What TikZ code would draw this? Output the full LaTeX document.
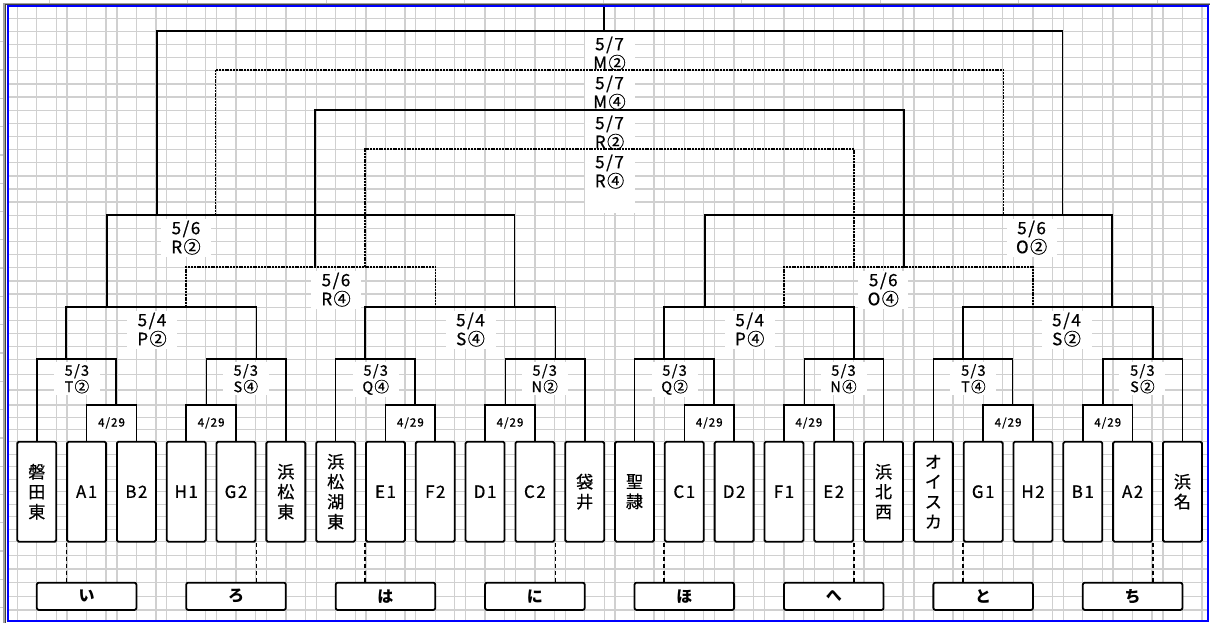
\documentclass[tikz,border=0pt]{standalone}
\usepackage{fontspec}
\setmainfont{Noto Sans CJK JP}
\newfontfamily\spacedfont[LetterSpace=9,FakeBold=0.7]{Noto Sans CJK JP}
\usetikzlibrary{positioning}

\begin{document}
\begin{tikzpicture}[x=1pt,y=-1pt,
	wire/.style={line width=1.6pt,line cap=rect},
	subwire/.style={line width=1.5pt,dash pattern=on 2pt off 0.8pt},
	linkwire/.style={line width=1.4pt,dash pattern=on 4pt off 3pt},
	gridline/.style={line width=1.3pt,color=cellgray},
	teambox/.style={draw,line width=1.8pt,rounded corners=1.5pt,fill=white,minimum width=39pt,minimum height=100pt,inner sep=0pt,align=center,font=\spacedfont\fontsize{17}{20}\selectfont},
	zonebox/.style={draw,line width=1.8pt,rounded corners=2pt,fill=white,minimum width=99.6pt,minimum height=27.3pt,inner sep=0pt,font=\bfseries\fontsize{16}{16}\selectfont},
	firstbox/.style={fill=white,minimum width=49.8pt,minimum height=36pt,inner sep=0pt,font=\spacedfont\fontsize{11.5}{11.5}\selectfont},
	daylabel/.style={fill=white,minimum width=50pt,inner xsep=0pt,inner ysep=2pt,align=center,font=\spacedfont\fontsize{17}{19}\selectfont},
	smalllabel/.style={fill=white,minimum width=46pt,inner xsep=0pt,inner ysep=2pt,align=center,font=\spacedfont\fontsize{14.5}{16.4}\selectfont}]

\definecolor{cellgray}{RGB}{208,208,208}
\definecolor{framegray}{RGB}{160,160,160}

\useasboundingbox (0,0) rectangle (1210,623);

\foreach \i in {0,...,23}{
	\foreach \dx in {0,19.5,39}{
		\draw[gridline] ({17.3+49.81*\i+\dx},7) -- ({17.3+49.81*\i+\dx},620);
	}
}
\foreach \k in {0,...,26}{
	\draw[gridline] (8,{18.3+13.13*\k}) -- (1208,{18.3+13.13*\k});
}
\foreach \y in {374.8,389.9,405,417.2,429.5,441.7,454.2,466.7,479.2,491.7,504.2,516.7,529.2,541.7,555.4,569,582.7,596.4,610}{
	\draw[gridline] (8,\y) -- (1208,\y);
}
\foreach \k in {0,...,8}{
	\draw[gridline] ({49.3+138.5*\k},0) -- ({49.3+138.5*\k},3);
}
\foreach \k in {0,...,20}{
	\draw[gridline] (0,{41.7+28.3*\k}) -- (4,{41.7+28.3*\k});
}

\foreach \k/\a in {1/1,2/3,3/7,4/9,5/13,6/15,7/19,8/21}{
	\node[firstbox] (m\k) at ({61.7+49.81*\a},423) {4/29};
}
\foreach \n/\name in {0/{磐\\田\\東},1/A1,2/B2,3/H1,4/G2,5/{浜\\松\\東},6/{浜\\松\\湖\\東},7/E1,8/F2,9/D1,10/C2,11/{袋\\井},12/{聖\\隷},13/C1,14/D2,15/F1,16/E2,17/{浜\\北\\西},18/{オ\\イ\\ス\\カ},19/G1,20/H2,21/B1,22/A2,23/{浜\\名}}{
	\node[teambox] (t\n) at ({36.8+49.81*\n},491.7) {\name};
}
\foreach \g/\kana in {0/い,1/ろ,2/は,3/に,4/ほ,5/へ,6/と,7/ち}{
	\node[zonebox] (z\g) at ({86.6+149.43*\g},596.3) {\kana};
}

\foreach \k/\x in {1/76.9,2/245.8,3/375.7,4/544.7,5/674.6,6/843.5,7/973.4,8/1142.4}{
	\coordinate (b\k) at (\x,359);
}
\foreach \k/\x in {1/152,2/470.5,3/749.7,4/1066.5}{
	\coordinate (c\k) at (\x,307);
}
\coordinate (d1) at (186,215);
\coordinate (d2) at (1031.6,215);
\coordinate (e1) at (336,267);
\coordinate (e2) at (883.3,267);
\foreach \k/\y in {1/31,2/70,3/110,4/149}{
	\coordinate (f\k) at (609.5,\y);
}
\coordinate (root) at (604.2,7);

\foreach \k/\txt in {1/T②,2/S④,3/Q④,4/N②,5/Q②,6/N④,7/T④,8/S②}{
	\node[smalllabel,below=3pt of b\k] (q\k) {5/3\\\txt};
}
\foreach \k/\txt in {1/P②,2/S④,3/P④,4/S②}{
	\node[daylabel,below=3.5pt of c\k] (p\k) {5/4\\\txt};
}
\node[daylabel,below=3.5pt of d1] (r1) {5/6\\R②};
\node[daylabel,below=3.5pt of d2] (r2) {5/6\\O②};
\node[daylabel,below=3.5pt of e1] (s1) {5/6\\R④};
\node[daylabel,below=3.5pt of e2] (s2) {5/6\\O④};

\fill[white] (584.7,31) rectangle (634.5,213);
\foreach \k/\txt in {1/M②,2/M④,3/R②,4/R④}{
	\node[daylabel,fill=none,inner ysep=0pt,below=5.5pt of f\k] (fl\k) {5/7\\\txt};
}

\foreach \k/\a/\b in {1/1/2,2/3/4,3/7/8,4/9/10,5/13/14,6/15/16,7/19/20,8/21/22}{
	\draw[wire] (t\a.north) |- (m\k.north) -| (t\b.north);
}

\draw[wire] (t0.north) |- (b1) -| (m1.north -| t2.north west);
\draw[wire] (m2.north -| t3.north east) |- (b2) -| (t5.north);
\draw[wire] (t6.north) |- (b3) -| (m3.north -| t8.north west);
\draw[wire] (m4.north -| t9.north east) |- (b4) -| (t11.north);
\draw[wire] (t12.north) |- (b5) -| (m5.north -| t14.north west);
\draw[wire] (m6.north -| t15.north east) |- (b6) -| (t17.north);
\draw[wire] (t18.north) |- (b7) -| (m7.north -| t20.north west);
\draw[wire] (m8.north -| t21.north east) |- (b8) -| (t23.north);

\draw[wire] (b1 -| t1.north west) |- (c1) -| (b2 -| t4.north east);
\draw[wire] (b3 -| t7.north west) |- (c2) -| (b4 -| t10.north east);
\draw[wire] (b5 -| t13.north west) |- (c3) -| (b6 -| t16.north east);
\draw[wire] (b7 -| t19.north west) |- (c4) -| (b8 -| t22.north east);

\draw[wire] (c1 -| t1.north east) |- (d1) -| (c2 -| t10.north west);
\draw[wire] (c3 -| t13.north east) |- (d2) -| (c4 -| t22.north west);
\draw[subwire] (c1 -| t3.north) |- (e1) -| (c2 -| t8.north);
\draw[subwire] (c3 -| t15.north) |- (e2) -| (c4 -| t20.north);

\draw[wire] (d1 -| t2.north east) |- (f1) -| (d2 -| t21.north west);
\draw[subwire] (d1 -| t4.north west) |- (f2) -| (d2 -| t19.north east);
\draw[wire] (e1 -| t6.north west) |- (f3) -| (e2 -| t17.north east);
\draw[subwire] (e1 -| t7.north west) |- (f4) -| (e2 -| t16.north east);
\draw[wire] (root) -- (root |- f1);

\foreach \a/\g in {1/0,7/2,13/4,19/6}{
	\draw[linkwire] (t\a.south west) -- (t\a.south west |- z\g.north);
}
\foreach \a/\g in {4/1,10/3,16/5,22/7}{
	\draw[linkwire] (t\a.south east) -- (t\a.south east |- z\g.north);
}

\draw[line width=1.5pt,color=framegray] (4,623) -- (4,3.3) -- (1210,3.3);
\draw[line width=0.8pt,color=black!75] (5.6,623) -- (5.6,4.9) -- (1210,4.9);
\draw[line width=2pt,color=blue] (7.7,6.5) rectangle (1208.3,620.8);

\end{tikzpicture}
\end{document}
